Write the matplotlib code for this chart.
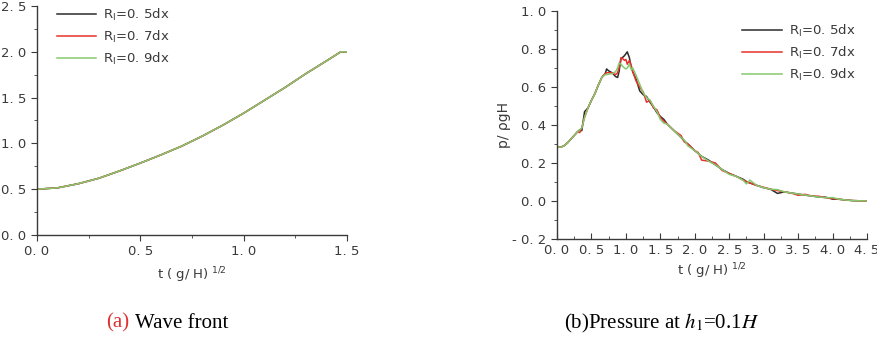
import numpy as np
import matplotlib
matplotlib.use("Agg")
import matplotlib.pyplot as plt
from matplotlib.ticker import MultipleLocator, FuncFormatter

# (a) wave front position
t_front = [0, 0.1, 0.2, 0.3, 0.4, 0.5, 0.6, 0.7, 0.8, 0.9, 1.0, 1.1, 1.2, 1.3, 1.4, 1.47, 1.5]
front = [0.5, 0.515, 0.56, 0.62, 0.70, 0.785, 0.875, 0.97, 1.08, 1.2, 1.33, 1.47, 1.61, 1.76, 1.90, 2.0, 2.0]

# (b) pressure at h1 = 0.1H
t_p = [0, 0.05, 0.1, 0.15, 0.2, 0.25, 0.3, 0.33, 0.36, 0.4, 0.45, 0.5, 0.55, 0.6, 0.65, 0.7, 0.72,
       0.75, 0.8, 0.85, 0.88, 0.9, 0.93, 0.95, 0.98, 1.0, 1.02, 1.05, 1.08, 1.1, 1.15, 1.2, 1.25,
       1.3, 1.35, 1.4, 1.45, 1.5, 1.55, 1.6, 1.7, 1.8, 1.85, 1.9, 2.0, 2.05, 2.1, 2.2, 2.3, 2.4,
       2.5, 2.6, 2.7, 2.75, 2.8, 2.9, 3.0, 3.1, 3.2, 3.3, 3.4, 3.5, 3.6, 3.7, 3.8, 3.9, 4.0, 4.1,
       4.2, 4.3, 4.4, 4.5]
p_05 = [0.285, 0.283, 0.29, 0.305, 0.325, 0.345, 0.365, 0.375, 0.37, 0.47, 0.49, 0.53, 0.565, 0.61,
        0.65, 0.67, 0.695, 0.685, 0.675, 0.655, 0.65, 0.68, 0.75, 0.755, 0.765, 0.775, 0.785, 0.755,
        0.70, 0.68, 0.64, 0.58, 0.56, 0.55, 0.52, 0.495, 0.465, 0.445, 0.43, 0.405, 0.37, 0.335,
        0.315, 0.30, 0.265, 0.25, 0.235, 0.215, 0.19, 0.165, 0.145, 0.13, 0.115, 0.102, 0.095,
        0.082, 0.07, 0.062, 0.04, 0.048, 0.042, 0.037, 0.031, 0.026, 0.021, 0.02, 0.01, 0.009,
        0.005, 0.002, 0.001, 0.0]
p_07 = [0.285, 0.283, 0.29, 0.305, 0.325, 0.345, 0.365, 0.36, 0.385, 0.44, 0.49, 0.53, 0.565, 0.61,
        0.65, 0.67, 0.675, 0.675, 0.675, 0.665, 0.675, 0.70, 0.755, 0.75, 0.74, 0.745, 0.72, 0.74,
        0.71, 0.68, 0.63, 0.60, 0.575, 0.52, 0.53, 0.49, 0.48, 0.44, 0.42, 0.405, 0.37, 0.345,
        0.31, 0.30, 0.265, 0.255, 0.215, 0.21, 0.20, 0.16, 0.145, 0.13, 0.11, 0.102, 0.095,
        0.082, 0.072, 0.062, 0.055, 0.048, 0.042, 0.03, 0.035, 0.026, 0.025, 0.017, 0.013, 0.009,
        0.005, 0.002, 0.001, 0.0]
p_09 = [0.285, 0.283, 0.29, 0.305, 0.325, 0.345, 0.365, 0.375, 0.385, 0.44, 0.49, 0.53, 0.565, 0.61,
        0.65, 0.665, 0.665, 0.668, 0.67, 0.68, 0.70, 0.725, 0.72, 0.71, 0.70, 0.695, 0.70, 0.72,
        0.69, 0.70, 0.66, 0.615, 0.57, 0.545, 0.53, 0.50, 0.47, 0.43, 0.41, 0.405, 0.37, 0.335,
        0.32, 0.29, 0.265, 0.25, 0.235, 0.21, 0.19, 0.165, 0.14, 0.13, 0.11, 0.09, 0.11,
        0.082, 0.07, 0.062, 0.06, 0.048, 0.042, 0.037, 0.031, 0.026, 0.021, 0.017, 0.018, 0.009,
        0.005, 0.002, 0.001, 0.0]

labels = ["R$_\\mathrm{I}$=0. 5dx", "R$_\\mathrm{I}$=0. 7dx", "R$_\\mathrm{I}$=0. 9dx"]
colors = ["#2b2b2b", "#e8322c", "#86c96e"]

plt.rcParams["font.family"] = "DejaVu Sans"
plt.rcParams["mathtext.fontset"] = "dejavusans"
ink = "#3a3a3a"


def spaced(v, pos):
    s = f"{v:.1f}".replace(".", ". ")
    if s.startswith("-"):
        s = "- " + s[1:]
    return s


def style(ax, xdir):
    for side in ("top", "right"):
        ax.spines[side].set_visible(False)
    for side in ("left", "bottom"):
        ax.spines[side].set_color(ink)
        ax.spines[side].set_linewidth(1.0)
    ax.xaxis.set_major_formatter(FuncFormatter(spaced))
    ax.yaxis.set_major_formatter(FuncFormatter(spaced))
    ax.tick_params(axis="y", which="major", direction="out", length=4, color=ink, labelcolor=ink)
    ax.tick_params(axis="y", which="minor", direction="out", length=2.5, color=ink)
    ax.tick_params(axis="x", which="major", direction=xdir, length=4, color=ink, labelcolor=ink)
    ax.tick_params(axis="x", which="minor", direction=xdir, length=2.5, color=ink)
    ax.tick_params(labelsize=9.5)


fig = plt.figure(figsize=(8.77, 3.48), dpi=100)

ax1 = fig.add_axes([37 / 877, 113 / 348, 310 / 877, 229 / 348])
for c, lab in zip(colors, labels):
    ax1.plot(t_front, front, color=c, lw=1.1, label=lab)
ax1.set_xlim(0, 1.5)
ax1.set_ylim(0, 2.5)
ax1.xaxis.set_major_locator(MultipleLocator(0.5))
ax1.xaxis.set_minor_locator(MultipleLocator(0.25))
ax1.yaxis.set_major_locator(MultipleLocator(0.5))
ax1.yaxis.set_minor_locator(MultipleLocator(0.25))
style(ax1, "out")
ax1.set_xlabel("t ( g/ H)$^{\\ 1/2}$", fontsize=9.5, color=ink, labelpad=5)
ax1.legend(loc="upper left", bbox_to_anchor=(0.025, 1.05), frameon=False, fontsize=9.5,
           handlelength=3.0, handletextpad=0.5, labelspacing=0.45, labelcolor=ink)

ax2 = fig.add_axes([557 / 877, 109 / 348, 310 / 877, 228 / 348])
for c, lab, p in zip(colors, labels, [p_05, p_07, p_09]):
    ax2.plot(t_p, p, color=c, lw=1.1, label=lab)
ax2.set_xlim(0, 4.5)
ax2.set_ylim(-0.2, 1.0)
ax2.xaxis.set_major_locator(MultipleLocator(0.5))
ax2.xaxis.set_minor_locator(MultipleLocator(0.25))
ax2.yaxis.set_major_locator(MultipleLocator(0.2))
ax2.yaxis.set_minor_locator(MultipleLocator(0.1))
style(ax2, "in")
ax2.set_xlabel("t ( g/ H)$^{\\ 1/2}$", fontsize=9.5, color=ink, labelpad=3)
ax2.set_ylabel("p/ \u03c1gH", fontsize=10, color=ink, labelpad=1)
ax2.legend(loc="upper right", bbox_to_anchor=(1.0, 1.0), frameon=False, fontsize=9.5,
           handlelength=3.0, handletextpad=0.5, labelspacing=0.45, labelcolor=ink)

serif = "Liberation Serif"
fig.text(106 / 877, 1 - 323 / 348, "(a)", color="#e03030", family=serif, fontsize=15, va="center")
fig.text(135 / 877, 1 - 323 / 348, "Wave front", color="black", family=serif, fontsize=15, va="center")
fig.text(662 / 877, 1 - 323 / 348, "(b)Pressure at $h_1$=0.1$H$", color="black", family=serif,
         fontsize=15, va="center", ha="center", math_fontfamily="stix")

fig.savefig("out.png", dpi=100)
